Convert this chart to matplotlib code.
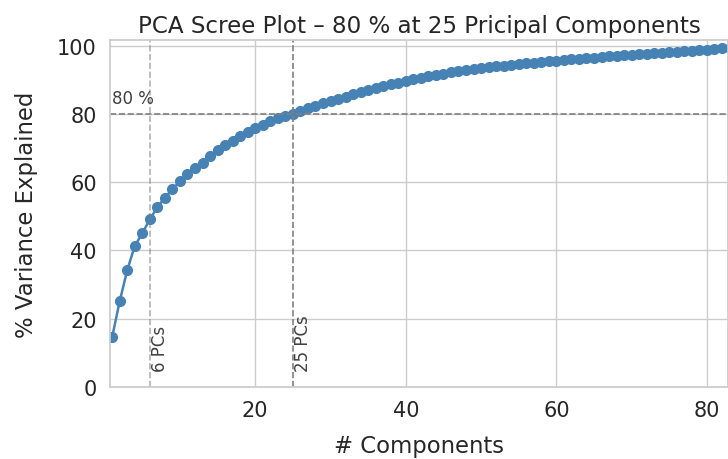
import numpy as np
import seaborn as sns
from matplotlib import pyplot as plt
from matplotlib.ticker import MultipleLocator

# 累積寄与率 (%)
components = np.arange(1, 88)
cum_var = [
    14.6, 25.1, 34.2, 41.3, 45.0, 49.1, 52.6, 55.5, 57.9, 60.2,
    62.4, 64.1, 65.6, 67.8, 69.4, 70.8, 72.1, 73.4, 74.6, 75.8,
    76.8, 77.8, 78.7, 79.4, 80.1, 80.9, 81.7, 82.4, 83.1, 83.8,
    84.5, 85.1, 85.8, 86.4, 87.0, 87.6, 88.1, 88.7, 89.2, 89.7,
    90.2, 90.6, 91.0, 91.4, 91.8, 92.2, 92.6, 92.9, 93.3, 93.6,
    93.8, 94.0, 94.2, 94.4, 94.6, 94.8, 95.0, 95.2, 95.4, 95.6,
    95.8, 96.0, 96.2, 96.4, 96.5, 96.7, 96.9, 97.0, 97.2, 97.3,
    97.5, 97.6, 97.8, 97.9, 98.1, 98.2, 98.4, 98.5, 98.7, 98.8,
    99.0, 99.2, 99.4, 99.6, 99.7, 99.9, 100.0,
]
threshold = 80
n_80 = 25
n_marked = 6

sns.set_theme(style="whitegrid", font_scale=1.3)

fig = plt.figure(figsize=(7.28, 4.6), dpi=100)
ax = fig.add_axes([0.151, 0.157, 0.849, 0.754])

ax.plot(components, cum_var, marker="o", markersize=7, color="steelblue", lw=1.8)

ax.axhline(threshold, color="gray", ls="--", lw=1.2)
ax.axvline(n_marked, color="gray", ls="--", lw=1.2, alpha=0.6)
ax.axvline(n_80, color="gray", ls="--", lw=1.2)

ax.text(1.0, threshold + 2, "80 %", fontsize=12, color=".25", va="bottom")
ax.text(n_marked + 0.1, 4.5, f"{n_marked} PCs", rotation=90, fontsize=12,
        color=".25", va="bottom", ha="left")
ax.text(n_80 + 0.1, 4.5, f"{n_80} PCs", rotation=90, fontsize=12,
        color=".25", va="bottom", ha="left")

ax.set_xlim(0.7, 82.8)
ax.set_ylim(0, 101.7)
ax.xaxis.set_major_locator(MultipleLocator(20))
ax.tick_params(labelsize=15)
ax.set_xlabel("# Components", fontsize=16.4, labelpad=10)
ax.set_ylabel("% Variance Explained", fontsize=16.4, labelpad=14)
ax.set_title(f"PCA Scree Plot – 80 % at {n_80} Pricipal Components", fontsize=16.6)

fig.savefig("out.png")
